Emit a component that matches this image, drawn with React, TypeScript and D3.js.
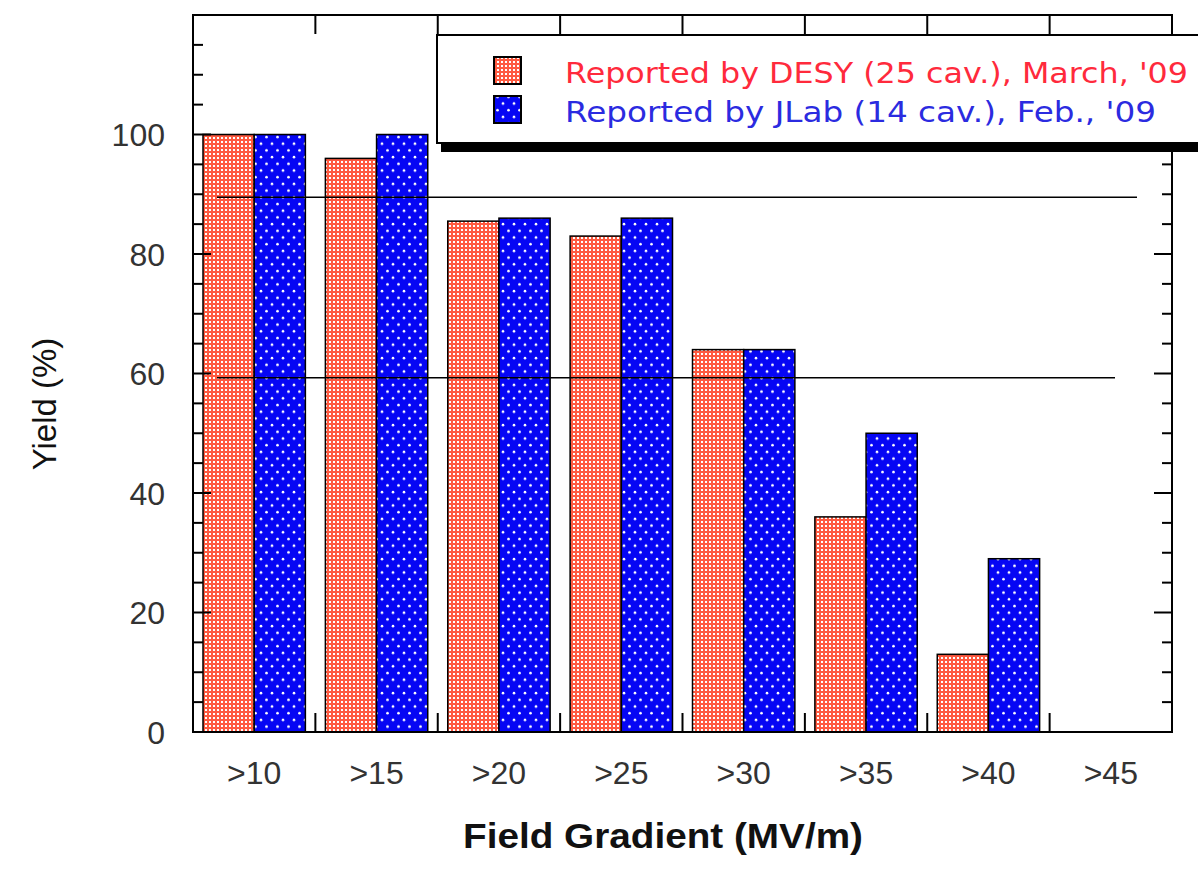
import React from 'react'
import * as d3 from 'd3'

const categories = ['>10', '>15', '>20', '>25', '>30', '>35', '>40', '>45']
const desyYield = [100, 96, 85.5, 83, 64, 36, 13, 0]
const jlabYield = [100, 100, 86, 86, 64, 50, 29, 0]
const yTickLabels = [0, 20, 40, 60, 80, 100]
const refLineValues = [89.5, 59.3]
const legendLabels = ["Reported by DESY (25 cav.), March, '09", "Reported by JLab (14 cav.), Feb., '09"]

const W = 1198
const H = 870
const left = 193
const right = 1172
const top = 15
const bottom = 732

export default function App() {
  const x = d3.scaleBand<string>().domain(categories).range([left, right]).padding(0)
  const bw = x.bandwidth()
  const inner = d3.scaleBand<string>().domain(['desy', 'jlab']).range([10, bw - 10]).padding(0)
  const y = d3.scaleLinear().domain([0, 120]).range([bottom, top])

  const minor = d3.range(0, 121, 5)
  const boundaries = categories.slice(1).map(c => x(c) as number)

  const bars = categories.flatMap((c, i) => [
    { key: 'desy', c, v: desyYield[i], fill: 'url(#pRed)' },
    { key: 'jlab', c, v: jlabYield[i], fill: 'url(#pBlue)' },
  ]).filter(d => d.v > 0)

  const refEnds = [1137, 1115]

  return (
    <div style={{ position: 'absolute', left: 0, top: 0 }}>
      <svg width={W} height={H} style={{ display: 'block', background: '#fff' }}>
        <defs>
          <pattern id="pRed" width={4} height={4} patternUnits="userSpaceOnUse">
            <rect width={4} height={4} fill="#ff5a40" />
            <rect x={1} y={1} width={2} height={2} fill="#fff" />
          </pattern>
          <pattern id="pBlue" width={11} height={13.4} patternUnits="userSpaceOnUse">
            <rect width={11} height={13.4} fill="#0606f4" />
            <circle cx={2.5} cy={3} r={1.3} fill="#fff" />
            <circle cx={8} cy={9.7} r={1.3} fill="#fff" />
          </pattern>
        </defs>

        {bars.map(d => (
          <rect
            key={d.key + d.c}
            x={(x(d.c) as number) + (inner(d.key) as number)}
            y={y(d.v)}
            width={inner.bandwidth()}
            height={y(0) - y(d.v)}
            fill={d.fill}
            stroke="#000"
            strokeWidth={1.5}
          />
        ))}

        {refLineValues.map((v, i) => (
          <line key={v} x1={217} x2={refEnds[i]} y1={y(v)} y2={y(v)} stroke="#000" strokeWidth={1.5} />
        ))}

        {/* frame */}
        <rect x={left} y={top} width={right - left} height={bottom - top} fill="none" stroke="#000" strokeWidth={2} />

        {/* y ticks on both sides */}
        {minor.map(v => {
          const len = v % 20 === 0 ? 18 : 10
          return (
            <g key={v}>
              <line x1={left} x2={left + len} y1={y(v)} y2={y(v)} stroke="#000" strokeWidth={2} />
              <line x1={right} x2={right - len} y1={y(v)} y2={y(v)} stroke="#000" strokeWidth={2} />
            </g>
          )
        })}

        {/* x ticks at category boundaries */}
        {boundaries.map(b => (
          <g key={b}>
            <line x1={b} x2={b} y1={bottom} y2={bottom - 19} stroke="#000" strokeWidth={2} />
            <line x1={b} x2={b} y1={top} y2={top + 19} stroke="#000" strokeWidth={2} />
          </g>
        ))}

        {yTickLabels.map(v => (
          <text key={v} x={165} y={y(v)} dy="0.36em" textAnchor="end" fontFamily="Liberation Sans, Arial, sans-serif" fontSize={32} fill="#333">
            {v}
          </text>
        ))}

        {categories.map(c => (
          <text key={c} x={(x(c) as number) + bw / 2} y={784} textAnchor="middle" fontFamily="Liberation Sans, Arial, sans-serif" fontSize={32} fill="#333">
            {c}
          </text>
        ))}

        <text transform="translate(56,404) rotate(-90)" textAnchor="middle" fontFamily="Liberation Sans, Arial, sans-serif" fontSize={33} fill="#111">
          Yield (%)
        </text>
        <text x={663} y={848} textAnchor="middle" fontFamily="Liberation Sans, Arial, sans-serif" fontWeight="bold" fontSize={35} textLength={400} lengthAdjust="spacingAndGlyphs" fill="#111">
          Field Gradient (MV/m)
        </text>

        {/* legend */}
        <g>
          <rect x={441} y={44} width={800} height={108} fill="#000" />
          <rect x={437} y={35} width={800} height={108} fill="#fff" stroke="#000" strokeWidth={2} />
          <rect x={494} y={57} width={27} height={27} fill="url(#pRed)" stroke="#000" strokeWidth={2} />
          <rect x={494} y={96} width={27} height={27} fill="url(#pBlue)" stroke="#000" strokeWidth={2} />
          <text x={565} y={83} fontFamily="DejaVu Sans, sans-serif" fontSize={29} textLength={623} lengthAdjust="spacingAndGlyphs" fill="#ff2a3c">
            {legendLabels[0]}
          </text>
          <text x={565} y={122} fontFamily="DejaVu Sans, sans-serif" fontSize={29} textLength={591} lengthAdjust="spacingAndGlyphs" fill="#2b2be0">
            {legendLabels[1]}
          </text>
        </g>
      </svg>
    </div>
  )
}
